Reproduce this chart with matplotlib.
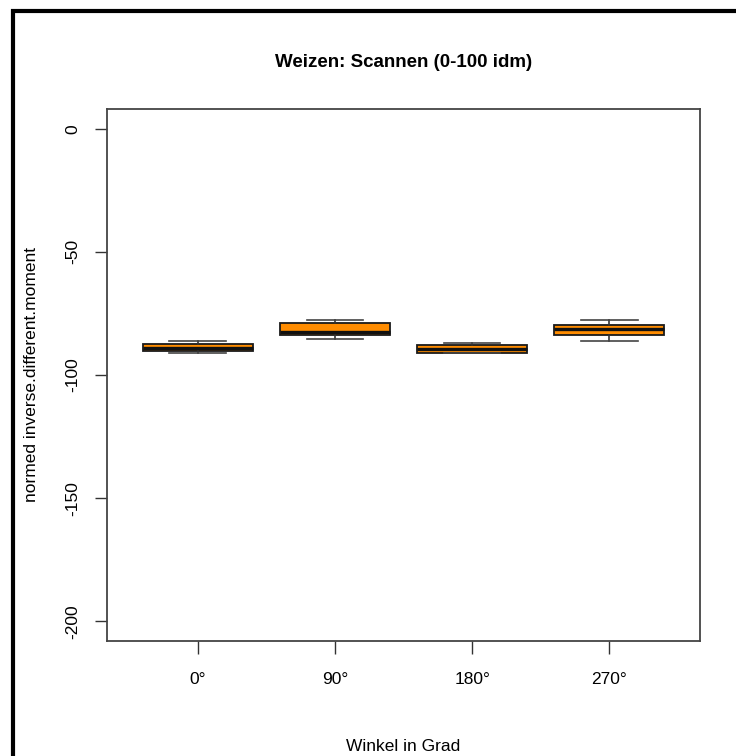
import matplotlib.pyplot as plt
from matplotlib.patches import Rectangle
from matplotlib import font_manager

# five-number summaries per angle
angles = ["0°", "90°", "180°", "270°"]
whisker_low = [-90.9, -85.2, -90.9, -86.1]
quart_low = [-90.2, -83.6, -90.9, -83.6]
medians = [-89.0, -82.5, -89.3, -81.4]
quart_high = [-87.4, -78.7, -87.7, -79.5]
whisker_high = [-86.1, -77.6, -87.1, -77.6]
y_ticks = [0, -50, -100, -150, -200]

names = {f.name for f in font_manager.fontManager.ttflist}
family = "Liberation Sans Narrow" if "Liberation Sans Narrow" in names else "Liberation Sans"
plt.rcParams['font.family'] = [family, 'DejaVu Sans']

fig = plt.figure(figsize=(7.36, 7.56), dpi=100)
ax = fig.add_axes([107 / 736, 115 / 756, 593 / 736, 532 / 756])

stats = []
for i, name in enumerate(angles):
    stats.append({
        "label": name,
        "whislo": whisker_low[i],
        "q1": quart_low[i],
        "med": medians[i],
        "q3": quart_high[i],
        "whishi": whisker_high[i],
    })

ax.bxp(stats, positions=range(1, len(angles) + 1), widths=0.8, showfliers=False,
       patch_artist=True,
       boxprops=dict(facecolor="#ff8c00", edgecolor="#1a1a1a", linewidth=1.3),
       medianprops=dict(color="#111111", linewidth=2.4),
       whiskerprops=dict(color="#333333", linewidth=1.2),
       capprops=dict(color="#444444", linewidth=1.2),
       capwidths=0.41)

ax.set_xlim(0.34, 4.66)
ax.set_ylim(-208, 8)
ax.set_yticks(y_ticks)
ax.set_yticklabels([str(t) for t in y_ticks], rotation=90, va="center")
ax.tick_params(axis="both", length=9, width=1, color="#333333", labelsize=12.5)
ax.tick_params(axis="x", pad=13)
ax.tick_params(axis="y", pad=10)
for side in ax.spines.values():
    side.set_color("#444444")
    side.set_linewidth(1.3)

ax.set_title("Weizen: Scannen (0-100 idm)", fontsize=13.5, fontweight="bold", pad=30)
ax.set_xlabel("Winkel in Grad", fontsize=12.5, va="center")
ax.xaxis.set_label_coords(0.5, -0.198)
ax.set_ylabel("normed inverse.different.moment", fontsize=12.5, labelpad=19)

# outer frame, cut off at the right and bottom edges
fig.patches.append(Rectangle((13 / 736, -0.1), 1.2, 1.1 - 11 / 756, transform=fig.transFigure,
                             fill=False, edgecolor="black", linewidth=3, clip_on=False))

fig.savefig("out.png", dpi=100)
